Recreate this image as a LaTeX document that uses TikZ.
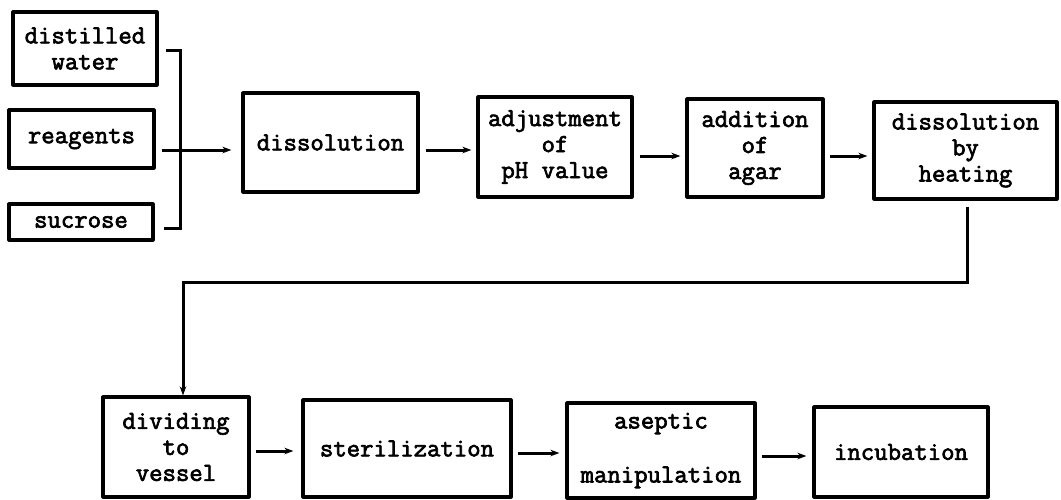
\documentclass[tikz,border=0pt]{standalone}
\usepackage{fontspec}
\newfontfamily\typew[FakeBold=2.6]{Latin Modern Mono}
\usetikzlibrary{arrows.meta,calc}
\begin{document}
\begin{tikzpicture}[x=1pt,y=-1pt,
  box/.style={draw,line width=3.2pt,line join=round,inner sep=0pt,align=center,
    font=\typew\fontsize{26}{26}\selectfont},
  conn/.style={line width=3pt},
  arr/.style={conn,-{Stealth[length=9pt,width=6.5pt]}}]
\useasboundingbox (0,0) rectangle (1061,499);
% top row
\node[box,minimum width=144pt,minimum height=73pt] (dw) at (85,48.5) {distilled\\water};
\node[box,minimum width=145pt,minimum height=58pt] (re) at (81.5,139) {reagents};
\node[box,minimum width=144pt,minimum height=36pt] (su) at (81,222) {sucrose};
\node[box,minimum width=175pt,minimum height=99pt] (diss) at (330.5,142.5) {dissolution};
\node[box,minimum width=154pt,minimum height=100pt] (adj) at (555,147) {adjustment\\of\\pH value};
\node[box,minimum width=136pt,minimum height=98pt] (add) at (755,148) {addition\\of\\agar};
\node[box,minimum width=183pt,minimum height=97pt] (heat) at (965.5,150.5) {dissolution\\by\\heating};
% bottom row
\node[box,minimum width=146pt,minimum height=100pt] (div) at (176,447) {dividing\\to\\vessel};
\node[box,minimum width=208pt,minimum height=97pt] (ster) at (407,448.5) {sterilization};
\node[box,minimum width=188pt,minimum height=95pt] (asep) at (661,450.5) {aseptic\\[28pt]manipulation};
\node[box,minimum width=174pt,minimum height=90pt] (incu) at (901,452) {incubation};
% helper coordinates
\coordinate (bt) at (180,50);
\coordinate (bb) at (180,228);
\coordinate (r0) at (0,150);
\coordinate (r1) at (0,150);
\coordinate (r2) at (0,156);
\coordinate (r3) at (0,156);
\coordinate (s1) at (0,451);
\coordinate (s2) at (0,453);
\coordinate (s3) at (0,456);
\coordinate (t1) at (967,282);
\coordinate (t2) at (183,282);
% bracket
\draw[conn] ($(dw.east |- bt)+(7,0)$) -- (bt) -- (bb) -- ($(su.east |- bb)+(9,0)$);
\draw[arr] ($(re.east |- r0)+(6,0)$) -- ($(diss.west |- r0)+(-10,0)$);
% top arrows
\draw[arr,shorten <=6pt,shorten >=5pt] (diss.east |- r1) -- (adj.west |- r1);
\draw[arr,shorten <=6pt,shorten >=5pt] (adj.east |- r2) -- (add.west |- r2);
\draw[arr,shorten <=5pt,shorten >=5pt] (add.east |- r3) -- (heat.west |- r3);
% return connector
\draw[arr,shorten <=6pt] (heat.south -| t1) -- (t1) -- (t2) -- (div.north -| t2);
% bottom arrows
\draw[arr,shorten <=5pt,shorten >=8pt] (div.east |- s1) -- (ster.west |- s1);
\draw[arr,shorten <=5pt,shorten >=6pt] (ster.east |- s2) -- (asep.west |- s2);
\draw[arr,shorten <=5pt,shorten >=6pt] (asep.east |- s3) -- (incu.west |- s3);
\end{tikzpicture}
\end{document}
